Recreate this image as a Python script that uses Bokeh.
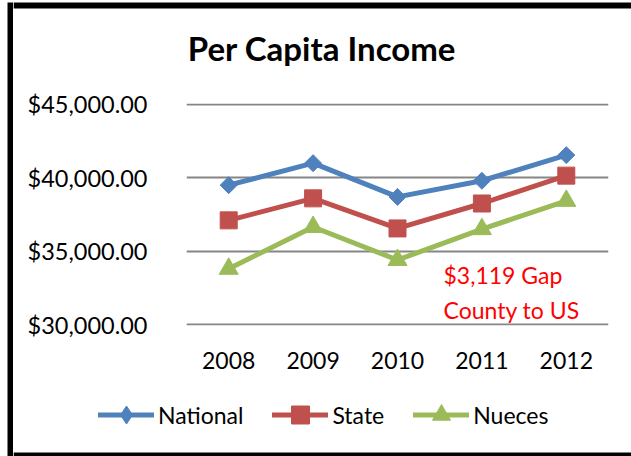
import math
from bokeh.plotting import figure
from bokeh.layouts import row, column
from bokeh.models import (FactorRange, Range1d, NumeralTickFormatter, FixedTicker,
                          Label, Legend, LegendItem)
from bokeh.embed import file_html
from bokeh.resources import INLINE

years = ["2008", "2009", "2010", "2011", "2012"]
national = [39500, 41000, 38700, 39800, 41549]
state = [37100, 38600, 36550, 38250, 40150]
nueces = [33800, 36650, 34400, 36500, 38430]
y_ticks = [30000, 35000, 40000, 45000]

title_text = "Per Capita Income"
note_lines = ["$3,119 Gap", "County to US"]

series_names = ["National", "State", "Nueces"]
series_values = [national, state, nueces]
series_colors = ["#4F81BD", "#C0504D", "#9BBB59"]

FONT = "Lato"
W_LEFT, W_MAIN = 13, 618
TOTAL_H = 456


def blank(width, height, xr, yr):
    f = figure(width=width, height=height, x_range=Range1d(*xr), y_range=Range1d(*yr),
               x_axis_type=None, y_axis_type=None, output_backend="svg",
               toolbar_location=None, min_border=0, frame_align=False)
    f.outline_line_color = None
    f.background_fill_color = "white"
    f.border_fill_color = "white"
    f.xgrid.visible = False
    f.ygrid.visible = False
    return f


# left frame strip (page coordinates: x 0..13, y 0..456 downward)
left = blank(W_LEFT, TOTAL_H, (0, W_LEFT), (TOTAL_H, 0))
left.quad(left=7, right=13, top=2, bottom=TOTAL_H, fill_color="black", line_color=None)

# top area with frame border and title (page y 0..84)
top = blank(W_MAIN, 84, (W_LEFT, 631), (84, 0))
top.quad(left=W_LEFT, right=631, top=2, bottom=8, fill_color="black", line_color=None)
top.add_layout(Label(x=321.5, y=47, text=title_text, text_align="center",
                     text_baseline="middle", text_font=FONT, text_font_style="bold",
                     text_font_size="33px", text_color="black"))

# main chart (page y 84..385), frame x 186..608, y 103..325
p = figure(x_range=FactorRange(*years), y_range=Range1d(29932, 45068),
           width=W_MAIN, height=301, output_backend="svg", toolbar_location=None,
           min_border_left=173, min_border_right=23, min_border_top=19,
           min_border_bottom=60, frame_align=False)
p.outline_line_color = None
p.background_fill_color = "white"
p.border_fill_color = "white"

p.yaxis.ticker = FixedTicker(ticks=y_ticks)
p.yaxis.formatter = NumeralTickFormatter(format="$0,0.00")
p.yaxis.axis_line_color = None
p.yaxis.major_tick_line_color = None
p.yaxis.minor_tick_line_color = None
p.yaxis.major_label_standoff = 33
p.yaxis.major_label_text_font = FONT
p.yaxis.major_label_text_font_size = "23.5px"
p.yaxis.major_label_text_color = "black"

p.xaxis.axis_line_color = None
p.xaxis.major_tick_line_color = None
p.xaxis.major_label_standoff = 20
p.xaxis.major_label_text_font = FONT
p.xaxis.major_label_text_font_size = "23px"
p.xaxis.major_label_text_color = "black"

p.xgrid.grid_line_color = None
p.ygrid.grid_line_color = "#868686"
p.ygrid.grid_line_width = 2

marker_specs = [("square", 12, math.pi / 4), ("square", 17, 0), ("triangle", 19, 0)]
legend_markers = ["diamond", "square", "triangle"]

for vals, color, (marker, size, ang) in zip(series_values, series_colors, marker_specs):
    p.line(years, vals, line_color=color, line_width=5, line_join="round")
    p.scatter(years, vals, marker=marker, size=size, angle=ang,
              fill_color=color, line_color=color)

p.add_layout(Label(x=257, y=51, x_units="screen", y_units="screen",
                   text=note_lines[0], text_align="left", text_baseline="middle",
                   text_font=FONT, text_font_size="23px", text_color="#FF0000"))
p.add_layout(Label(x=257, y=16, x_units="screen", y_units="screen",
                   text=note_lines[1], text_align="left", text_baseline="middle",
                   text_font=FONT, text_font_size="23px", text_color="#FF0000"))

# legend area with bottom frame border (page y 385..456)
leg = blank(W_MAIN, TOTAL_H - 385, (W_LEFT, 631), (TOTAL_H, 385))
leg.quad(left=W_LEFT, right=631, top=452, bottom=TOTAL_H, fill_color="black", line_color=None)
items = []
for name, color, lm in zip(series_names, series_colors, legend_markers):
    # legend-only renderers: a single point placed outside the visible range
    ln = leg.line(x=[-100, -99], y=[-100, -100], line_color=color, line_width=5,
                  line_cap="round")
    sc = leg.scatter(x=[-100], y=[-100], marker=lm, size=17,
                     fill_color=color, line_color=color)
    items.append(LegendItem(label=name, renderers=[ln, sc]))

legend = Legend(items=items, orientation="horizontal", location=(85, 19),
                glyph_width=56, glyph_height=45, label_standoff=4, spacing=29,
                padding=0, margin=0, border_line_color=None,
                background_fill_alpha=0, label_text_font=FONT,
                label_text_font_size="23px", label_text_color="black")
leg.add_layout(legend, "center")

layout = row(left, column(top, p, leg, spacing=0), spacing=0)

open("out.html", "w").write(file_html(layout, INLINE))
